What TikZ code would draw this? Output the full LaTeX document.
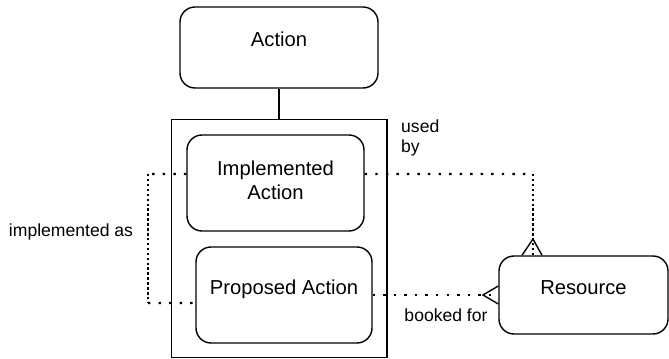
\documentclass[tikz,border=0pt]{standalone}
\usepackage{fontspec}
\setmainfont{Liberation Sans}
\usepackage{tikz}
\usetikzlibrary{calc}
\tikzset{ent/.style={draw, line width=0.8pt, rounded corners=3mm, align=center, font=\fontsize{11.5}{13.5}\selectfont, text depth=9pt}}
\tikzset{rel/.style={line width=1.3pt, dash pattern=on 1.4pt off 4.6pt}}
\tikzset{vrel/.style={line width=1.3pt, dash pattern=on 1.4pt off 1.4pt}}
\tikzset{lbl/.style={font=\fontsize{10}{11.5}\selectfont}}
\newcommand{\crowfoot}[3]{\draw[line width=0.8pt] (#2) -- (#1) -- (#3);}

\begin{document}
\begin{tikzpicture}[x=0.2mm, y=-0.2mm]
\useasboundingbox (0,0) rectangle (669,359);
\node[draw, line width=0.6pt, minimum width=43.1mm, minimum height=47.6mm] (outer) at (279.25,238.5) {};
\node[ent, minimum width=39.6mm, minimum height=16.2mm] (action) at (279,47.5) {Action};
\node[ent, minimum width=35.4mm, minimum height=19.2mm, text depth=3pt] (implAction) at (275.5,183) {Implemented\\Action};
\node[ent, minimum width=35.2mm, minimum height=19.2mm] (propAction) at (284,295) {Proposed Action};
\node[ent, minimum width=33.8mm, minimum height=15.6mm] (resource) at (583.5,295) {Resource};
\draw[line width=0.6pt] (action.south) -- (action.south |- outer.north);
% used by
\coordinate (usedFoot) at (533,239);
\coordinate (usedCorner) at (533,174);
\draw[rel] ([yshift=1.8mm]implAction.east) -- (usedCorner);
\draw[vrel] (usedCorner) -- (usedFoot |- resource.north);
\crowfoot{usedFoot}{$(usedFoot |- resource.north)+(-11,0)$}{$(usedFoot |- resource.north)+(9,0)$}
\node[lbl, anchor=west, align=left] (usedBy) at (395,138) {used\\by};
% implemented as
\coordinate (implCorner) at (148,174);
\coordinate (propCorner) at (148,303);
\draw[rel] ([yshift=1.8mm]implAction.west) -- (implCorner);
\draw[vrel] (implCorner) -- (propCorner);
\draw[rel] (propCorner) -- ([yshift=-1.6mm]propAction.west);
\node[lbl] (implAs) at (71,232) {implemented as};
% booked for
\coordinate (bookFoot) at (483,295);
\draw[rel] (propAction.east) -- (resource.west);
\crowfoot{bookFoot}{$(resource.west)+(0,-9)$}{$(resource.west)+(0,9)$}
\node[lbl] (bookedFor) at (446,315) {booked for};
\end{tikzpicture}
\end{document}
